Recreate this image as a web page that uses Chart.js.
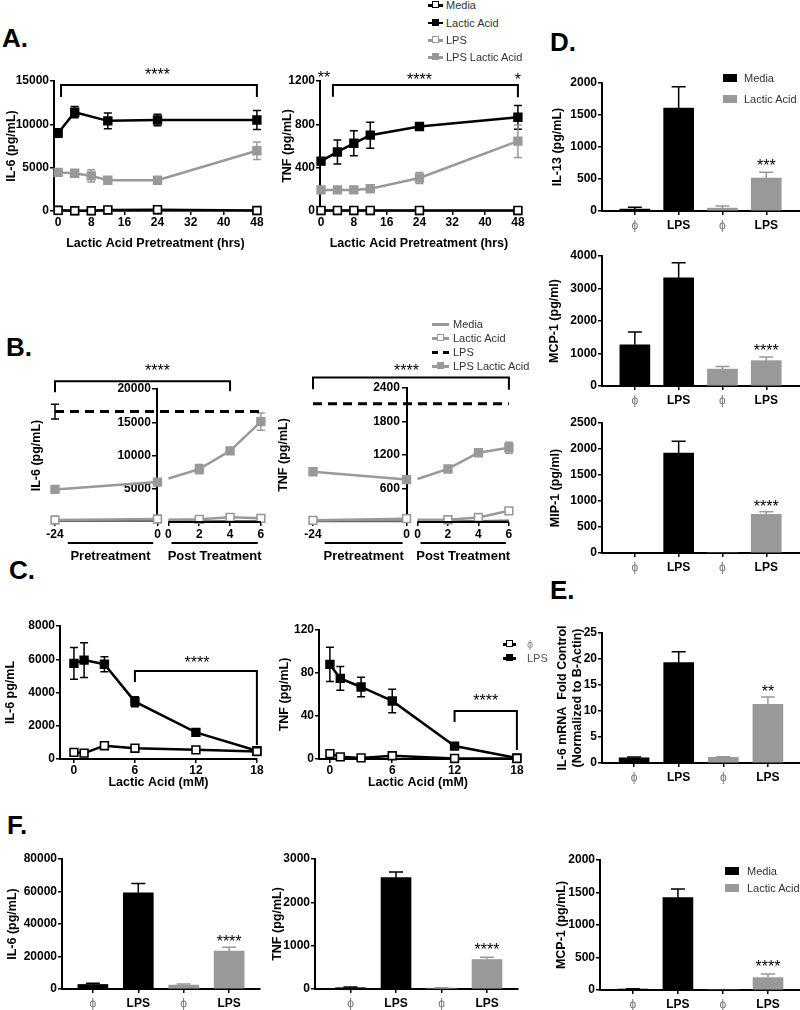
<!DOCTYPE html>
<html>
<head>
<meta charset="utf-8">
<script src="https://cdn.jsdelivr.net/npm/chart.js@4.4.1/dist/chart.umd.min.js"></script>
<style>
body{margin:0;width:800px;height:1010px;position:relative;overflow:hidden;background:#fff;font-family:'Liberation Sans',Arial,sans-serif}
canvas{position:absolute}
.lt{position:absolute;font-weight:bold;font-size:26px;line-height:26px}
.lg{position:absolute;height:14px;width:120px;font-size:11px;line-height:14px}
.lg i,.lg span{position:absolute;display:block}
.lg span{top:0;white-space:nowrap}
</style>
</head>
<body>
<div class="lt" style="left:2px;top:25px">A.</div>
<div class="lt" style="left:6px;top:334px">B.</div>
<div class="lt" style="left:9px;top:557px">C.</div>
<div class="lt" style="left:550px;top:29px">D.</div>
<div class="lt" style="left:550px;top:577px">E.</div>
<div class="lt" style="left:7px;top:812px">F.</div>
<script>
// ---- A: lactic acid pretreatment time course ----
const aHours = [0, 4, 8, 12, 24, 48]
const aTicks = [0, 8, 16, 24, 32, 40, 48]
const aLabels = ['Media', 'Lactic Acid', 'LPS', 'LPS Lactic Acid']
const aIl6Media = [80, 30, 30, 120, 150, 60]
const aIl6Lactic = [9000, 11400, null, 10400, 10500, 10500]
const aIl6LacticErr = [500, 650, 0, 900, 650, 1100]
const aIl6Lps = [60, 20, 20, 80, 100, 40]
const aIl6LpsLactic = [4450, 4350, 4050, 3550, 3550, 6950]
const aIl6LpsLacticErr = [350, 150, 700, 150, 150, 1000]
const aTnfMedia = [5, 5, 5, 5, 5, 5]
const aTnfLactic = [460, 545, 625, 700, 780, 865]
const aTnfLacticErr = [30, 110, 115, 120, 15, 110]
const aTnfLps = [3, 3, 3, 3, 3, 3]
const aTnfLpsLactic = [195, 195, 195, 205, 305, 645]
const aTnfLpsLacticErr = [15, 10, 10, 10, 50, 150]

// ---- B: pretreatment vs post treatment ----
const bPreHours = [-24, 0]
const bPostHours = [0, 2, 4, 6]
const bTickLabels = ['-24', '0', '0', '2', '4', '6']
const bIl6Ticks = [5000, 10000, 15000, 20000]
const bIl6MediaPre = [150, 150]
const bIl6MediaPost = [100, 100, 150, 150]
const bIl6LacticPre = [300, 450]
const bIl6LacticPost = [350, 400, 700, 550]
const bIl6Lps = 16600
const bIl6LpsErr = 1100
const bIl6LpsLacticPre = [4900, 6000]
const bIl6LpsLacticPost = [6550, 7950, 10700, 15100]
const bIl6LpsLacticPostErr = [0, 700, 400, 1300]
const bTnfTicks = [600, 1200, 1800, 2400]
const bTnfMediaPre = [15, 15]
const bTnfMediaPost = [15, 15, 20, 25]
const bTnfLacticPre = [30, 60]
const bTnfLacticPost = [40, 40, 80, 200]
const bTnfLps = 2120
const bTnfLpsLacticPre = [900, 760]
const bTnfLpsLacticPost = [770, 950, 1240, 1330]
const bTnfLpsLacticPostErr = [0, 30, 40, 100]

// ---- C: lactic acid dose ----
const cLactate = [0, 1, 3, 6, 12, 18]
const cTicks = [0, 6, 12, 18]
const cIl6Phi = [400, 350, 800, 650, 550, 450]
const cIl6Lps = [5750, 5950, 5700, 3450, 1600, 500]
const cIl6LpsErr = [950, 1050, 450, 300, 100, 50]
const cTnfPhi = [5, 2, 1, 3, 0.5, 0.5]
const cTnfLps = [88, 75, 67, 54, 12, 1]
const cTnfLpsErr = [16, 11, 9, 11, 2, 1]

// ---- D / E / F: bars (phi, LPS) x (Media, Lactic Acid) ----
const barCats = ['ϕ', 'LPS', 'ϕ', 'LPS']
const barPos = [1, 2, 3, 4]
const barGroups = ['Media', 'Lactic Acid']
const dIl13Media = [30, 1610], dIl13MediaErr = [30, 330]
const dIl13Lactic = [45, 515], dIl13LacticErr = [35, 90]
const dMcpMedia = [1270, 3330], dMcpMediaErr = [390, 460]
const dMcpLactic = [520, 780], dMcpLacticErr = [80, 110]
const dMipMedia = [0, 1920], dMipMediaErr = [0, 230]
const dMipLactic = [0, 745], dMipLacticErr = [0, 50]
const eIl6Media = [1.0, 19.3], eIl6MediaErr = [0.15, 2.1]
const eIl6Lactic = [1.1, 11.3], eIl6LacticErr = [0.1, 1.4]
const fIl6Media = [2800, 59200], fIl6MediaErr = [700, 5800]
const fIl6Lactic = [2400, 23300], fIl6LacticErr = [700, 2400]
const fTnfMedia = [30, 2570], fTnfMediaErr = [15, 130]
const fTnfLactic = [20, 680], fTnfLacticErr = [10, 50]
const fMcpMedia = [15, 1420], fMcpMediaErr = [5, 135]
const fMcpLactic = [0, 190], fMcpLacticErr = [0, 55]

const FONT = "'Liberation Sans', Arial, sans-serif"
const GRAY = '#999999'
Chart.defaults.font.family = FONT
Chart.defaults.color = '#000'

const tickFont = {family: FONT, size: 12, weight: 'bold'}
const axisBorder = {color: '#000', width: 2}
const axisGrid = {drawOnChartArea: false, color: '#000', lineWidth: 1.5, tickLength: 4}
const titleOpts = text => ({display: true, text, font: {family: FONT, size: 12.5, weight: 'bold'}, color: '#000', padding: 0})

// error bars under the marks, brackets / stars / axis break decorations on top
const extrasPlugin = {
  id: 'extras',
  beforeDatasetsDraw(chart) {
    const ctx = chart.ctx, ys = chart.scales.y
    chart.data.datasets.forEach((ds, i) => {
      if (!ds.errs) return
      const els = chart.getDatasetMeta(i).data
      ctx.save()
      ctx.strokeStyle = ds.errColor
      ctx.lineWidth = 1.5
      ds.errs.forEach((e, j) => {
        const v = ds.data[j].y
        if (!e || v == null || !els[j]) return
        const x = els[j].x, c = ds.cap
        const hi = ys.getPixelForValue(v + e)
        const lo = ys.getPixelForValue(ds.upOnly ? v : v - e)
        ctx.beginPath()
        ctx.moveTo(x, lo); ctx.lineTo(x, hi)
        ctx.moveTo(x - c, hi); ctx.lineTo(x + c, hi)
        if (!ds.upOnly) { ctx.moveTo(x - c, lo); ctx.lineTo(x + c, lo) }
        ctx.stroke()
      })
      ctx.restore()
    })
  },
  afterDraw(chart) {
    const o = chart.config.options.plugins.extras || {}
    const ctx = chart.ctx, xs = chart.scales.x, ys = chart.scales.y
    const bottom = chart.chartArea.bottom
    ctx.save()
    ctx.strokeStyle = '#000'; ctx.fillStyle = '#000'; ctx.lineWidth = 2
    ;(o.brackets || []).forEach(b => {
      const x1 = xs.getPixelForValue(b.x1), x2 = xs.getPixelForValue(b.x2), y = ys.getPixelForValue(b.y)
      ctx.beginPath()
      ctx.moveTo(x1, ys.getPixelForValue(b.y1)); ctx.lineTo(x1, y)
      ctx.lineTo(x2, y); ctx.lineTo(x2, ys.getPixelForValue(b.y2))
      ctx.stroke()
    })
    ctx.font = '16px ' + FONT
    ctx.textAlign = 'center'; ctx.textBaseline = 'alphabetic'
    ;(o.stars || []).forEach(s => ctx.fillText(s.t, xs.getPixelForValue(s.x), ys.getPixelForValue(s.y) + 9))
    if (o.baseline) {
      ctx.beginPath()
      ctx.moveTo(xs.getPixelForValue(o.baseline[0]), bottom); ctx.lineTo(xs.getPixelForValue(o.baseline[1]), bottom)
      ctx.stroke()
    }
    ctx.font = 'bold 13px ' + FONT
    ctx.textBaseline = 'middle'
    ;(o.groups || []).forEach(g => {
      const x1 = xs.getPixelForValue(g.x1), x2 = xs.getPixelForValue(g.x2)
      ctx.beginPath(); ctx.moveTo(x1, bottom + 21); ctx.lineTo(x2, bottom + 21); ctx.stroke()
      ctx.fillText(g.text, (x1 + x2) / 2, bottom + 34)
    })
    ctx.restore()
  }
}

// box: l,t,r,b = plot area on the page, yt = centre of y title, xh = room under plot
function makeChart(box, type, datasets, scales, extras) {
  const pt = box.pt || 40, pr = box.pr || 6
  const left = Math.round(box.yt - 7.5)
  const top = box.t - pt
  const cv = document.createElement('canvas')
  cv.width = box.r + pr - left
  cv.height = box.b + box.xh - top
  cv.style.left = left + 'px'
  cv.style.top = top + 'px'
  document.body.appendChild(cv)
  scales[box.yid || 'y'].afterFit = s => { s.width = box.l - left }
  scales.x.afterFit = s => { s.height = box.xh }
  return new Chart(cv, {
    type, data: {datasets}, plugins: [extrasPlugin],
    options: {
      responsive: false, animation: false, devicePixelRatio: 1,
      layout: {padding: {top: pt, right: pr, left: 0, bottom: 0}},
      plugins: {legend: {display: false}, tooltip: {enabled: false}, extras: extras || {}},
      scales
    }
  })
}

const pts = (xs, ys) => xs.map((x, i) => ({x, y: ys[i]}))

function series(label, xs, ys, color, open, extra) {
  return Object.assign({
    label, data: pts(xs, ys), clip: false, tension: 0, xAxisID: 'x', yAxisID: 'y',
    borderColor: color, backgroundColor: color, borderWidth: 2.5,
    pointStyle: 'rect', pointRadius: 5.5, pointBorderWidth: 1.6,
    pointBorderColor: color, pointBackgroundColor: open ? '#fff' : color,
    errColor: color, cap: 4
  }, extra || {})
}

function bars(label, xs, ys, errs, color) {
  return {label, data: pts(xs, ys), errs, upOnly: true, errColor: color, cap: 7,
    backgroundColor: color, borderWidth: 0, barThickness: 30, grouped: false}
}

function yLin(max, step, title) {
  return {type: 'linear', min: 0, max,
    ticks: {stepSize: step, font: tickFont, color: '#000', padding: 1, callback: v => String(v)},
    border: axisBorder, grid: axisGrid, title: titleOpts(title)}
}

function xLin(min, max, ticks, title) {
  return {type: 'linear', min, max,
    afterBuildTicks: s => { s.ticks = ticks.map(v => ({value: v})) },
    ticks: {font: tickFont, color: '#000', padding: 0, autoSkip: false, maxRotation: 0, callback: v => String(v)},
    border: axisBorder, grid: axisGrid, title: title ? titleOpts(title) : {display: false}}
}

function xBar(min, max) {
  return {type: 'linear', min, max, offset: false,
    afterBuildTicks: s => { s.ticks = barPos.map(v => ({value: v})) },
    ticks: {autoSkip: false, maxRotation: 0, padding: 3,
      callback: (v, i) => barCats[i],
      color: c => barCats[c.index] === 'ϕ' ? '#777' : '#000',
      font: c => barCats[c.index] === 'ϕ' ? {family: FONT, size: 12} : tickFont},
    border: axisBorder, grid: Object.assign({}, axisGrid, {offset: false})}
}

// ---- A ----
function aSets(media, lactic, lacticErr, lps, lpsLactic, lpsLacticErr) {
  return [
    series(aLabels[0], aHours, media, '#000', true),
    series(aLabels[1], aHours, lactic, '#000', false, {errs: lacticErr, spanGaps: true}),
    series(aLabels[2], aHours, lps, GRAY, true),
    series(aLabels[3], aHours, lpsLactic, GRAY, false, {errs: lpsLacticErr})
  ]
}
makeChart({l: 54, t: 81, r: 258, b: 211, yt: 11, xh: 40}, 'line',
  aSets(aIl6Media, aIl6Lactic, aIl6LacticErr, aIl6Lps, aIl6LpsLactic, aIl6LpsLacticErr),
  {x: xLin(-1, 48, aTicks, 'Lactic Acid Pretreatment (hrs)'), y: yLin(15000, 5000, 'IL-6 (pg/mL)')},
  {brackets: [{x1: 0.7, x2: 48, y: 14550, y1: 13150, y2: 13150}],
   stars: [{x: 24, y: 16100, t: '****'}]})
makeChart({l: 320, t: 81, r: 519, b: 211, yt: 287, xh: 40}, 'line',
  aSets(aTnfMedia, aTnfLactic, aTnfLacticErr, aTnfLps, aTnfLpsLactic, aTnfLpsLacticErr),
  {x: xLin(-0.25, 48, aTicks, 'Lactic Acid Pretreatment (hrs)'), y: yLin(1200, 400, 'TNF (pg/mL)')},
  {brackets: [{x1: 2.9, x2: 48, y: 1163, y1: 1055, y2: 1050}],
   stars: [{x: 0.7, y: 1265, t: '**'}, {x: 24, y: 1250, t: '****'}, {x: 48, y: 1250, t: '*'}]})

// ---- B: x axis with a break between pre and post treatment ----
const bPos = (t, post, k) => post ? k.off + t * k.str : t
function bChart(box, k, title, ymax, yticks, media, lactic, lps, lpsErr, lpsLactic, lpsLacticErr, extras) {
  const pre = bPreHours.map(t => bPos(t, false, k))
  const post = bPostHours.map(t => bPos(t, true, k))
  const end = bPos(6, true, k)
  const tickVals = pre.concat(post)
  const dark = '#666', postRadius = [0, 5.5, 5.5, 5.5]
  const sets = [
    series('LPS Lactic Acid', pre, lpsLactic[0], GRAY, false),
    series('LPS Lactic Acid', post, lpsLactic[1], GRAY, false, {errs: lpsLacticErr, pointRadius: postRadius}),
    series('LPS', [-24, end], [lps, lps], '#000', false, {errs: [lpsErr, 0], borderDash: [9, 6], borderWidth: 3, pointRadius: 0}),
    series('Lactic Acid', pre, lactic[0], GRAY, true),
    series('Lactic Acid', post, lactic[1], GRAY, true, {pointRadius: postRadius}),
    series('Media', pre, media[0], dark, false, {pointRadius: 0, borderWidth: 2}),
    series('Media', post, media[1], dark, false, {pointRadius: 0, borderWidth: 2})
  ]
  const scales = {
    x: {type: 'linear', min: -24, max: end,
      afterBuildTicks: s => { s.ticks = tickVals.map(v => ({value: v})) },
      ticks: {font: tickFont, color: '#000', padding: 1, autoSkip: false, maxRotation: 0, callback: (v, i) => bTickLabels[i]},
      border: {display: false}, grid: axisGrid},
    y: {type: 'linear', position: {x: 0}, min: 0, max: ymax,
      afterBuildTicks: s => { s.ticks = yticks.map(v => ({value: v})) },
      ticks: {font: tickFont, color: '#000', callback: v => v + '  '},
      border: axisBorder, grid: axisGrid},
    yt: {type: 'linear', position: 'left', ticks: {display: false}, grid: {display: false},
      border: {display: false}, title: titleOpts(title)}
  }
  extras.baseline = [post[0], end]
  extras.groups = [{x1: -21, x2: -1, text: 'Pretreatment'},
    {x1: bPos(0.2, true, k), x2: bPos(5.8, true, k), text: 'Post Treatment'}]
  return makeChart(box, 'line', sets, scales, extras)
}
const k1 = {off: 2.56, str: 3.61}, k2 = {off: 2.81, str: 3.91}
bChart({l: 55, t: 389, r: 262, b: 522, yt: 36, xh: 45, pt: 35, yid: 'yt'}, k1, 'IL-6 (pg/mL)', 20000, bIl6Ticks,
  [bIl6MediaPre, bIl6MediaPost], [bIl6LacticPre, bIl6LacticPost], bIl6Lps, bIl6LpsErr,
  [bIl6LpsLacticPre, bIl6LpsLacticPost], bIl6LpsLacticPostErr,
  {brackets: [{x1: -24, x2: bPos(4, true, k1), y: 21150, y1: 19500, y2: 19650}],
   stars: [{x: 0, y: 23250, t: '****'}]})
bChart({l: 313, t: 388, r: 510, b: 522, yt: 283, xh: 45, pt: 35, yid: 'yt'}, k2, 'TNF (pg/mL)', 2400, bTnfTicks,
  [bTnfMediaPre, bTnfMediaPost], [bTnfLacticPre, bTnfLacticPost], bTnfLps, 0,
  [bTnfLpsLacticPre, bTnfLpsLacticPost], bTnfLpsLacticPostErr,
  {brackets: [{x1: -24, x2: bPos(6, true, k2), y: 2590, y1: 2376, y2: 2370}],
   stars: [{x: 0, y: 2770, t: '****'}]})

// ---- C ----
function cSets(phi, lps, lpsErr) {
  return [
    series('ϕ', cLactate, phi, '#000', true),
    series('LPS', cLactate, lps, '#000', false, {errs: lpsErr})
  ]
}
makeChart({l: 60, t: 626, r: 258, b: 759, yt: 10, xh: 31}, 'line', cSets(cIl6Phi, cIl6Lps, cIl6LpsErr),
  {x: xLin(-1.37, 18, cTicks, 'Lactic Acid (mM)'), y: yLin(8000, 2000, 'IL-6 pg/mL')},
  {brackets: [{x1: 6, x2: 18, y: 5290, y1: 4630, y2: 840}], stars: [{x: 12.1, y: 6015, t: '****'}]})
makeChart({l: 319, t: 630, r: 518, b: 759, yt: 284, xh: 31}, 'line', cSets(cTnfPhi, cTnfLps, cTnfLpsErr),
  {x: xLin(-1.05, 18, cTicks, 'Lactic Acid (mM)'), y: yLin(120, 40, 'TNF (pg/mL)')},
  {brackets: [{x1: 12, x2: 18, y: 44.6, y1: 34.4, y2: 8.4}], stars: [{x: 15, y: 57.7, t: '****'}]})

// ---- bar panels ----
function barChart(box, xr, title, ymax, step, media, mediaErr, lactic, lacticErr, stars) {
  return makeChart(box, 'bar', [
    bars(barGroups[0], barPos.slice(0, 2), media, mediaErr, '#000'),
    bars(barGroups[1], barPos.slice(2), lactic, lacticErr, GRAY)
  ], {x: xBar(xr[0], xr[1]), y: yLin(ymax, step, title)}, {stars})
}
barChart({l: 602, t: 83, r: 800, b: 211, yt: 557, xh: 25}, [0.25, 4.77], 'IL-13 (pg/mL)', 2000, 500,
  dIl13Media, dIl13MediaErr, dIl13Lactic, dIl13LacticErr, [{x: 4, y: 765, t: '***'}])
barChart({l: 602, t: 256, r: 800, b: 386, yt: 554, xh: 25}, [0.25, 4.77], 'MCP-1 (pg/ml)', 4000, 1000,
  dMcpMedia, dMcpMediaErr, dMcpLactic, dMcpLacticErr, [{x: 4, y: 1210, t: '****'}])
barChart({l: 602, t: 423, r: 800, b: 553, yt: 555, xh: 25}, [0.25, 4.77], 'MIP-1 (pg/ml)', 2500, 500,
  dMipMedia, dMipMediaErr, dMipLactic, dMipLacticErr, [{x: 4, y: 960, t: '****'}])
barChart({l: 602, t: 633, r: 800, b: 763, yt: 562, xh: 25}, [0.28, 4.72],
  ['IL-6 mRNA  Fold Control', '(Normalized to B-Actin)'], 25, 5,
  eIl6Media, eIl6MediaErr, eIl6Lactic, eIl6LacticErr, [{x: 4, y: 14.4, t: '**'}])
barChart({l: 62, t: 859, r: 260, b: 989, yt: 12, xh: 25}, [0.32, 4.68], 'IL-6 (pg/mL)', 80000, 20000,
  fIl6Media, fIl6MediaErr, fIl6Lactic, fIl6LacticErr, [{x: 4, y: 31400, t: '****'}])
barChart({l: 315, t: 859, r: 518, b: 989, yt: 277, xh: 25}, [0.22, 4.68], 'TNF (pg/mL)', 3000, 1000,
  fTnfMedia, fTnfMediaErr, fTnfLactic, fTnfLacticErr, [{x: 4, y: 990, t: '****'}])
barChart({l: 600, t: 860, r: 800, b: 990, yt: 561, xh: 25}, [0.27, 4.71], 'MCP-1 (pg/mL)', 2000, 500,
  fMcpMedia, fMcpMediaErr, fMcpLactic, fMcpLacticErr, [{x: 4, y: 415, t: '****'}])

// ---- legends ----
function addLegend(x, tx, w, items) {
  items.forEach(it => {
    const row = document.createElement('div')
    row.className = 'lg'
    row.style.left = x + 'px'
    row.style.top = (it.y - 7) + 'px'
    let h = ''
    if (it.box) h += `<i style="left:0;top:3px;width:${w}px;height:8px;background:${it.box}"></i>`
    if (it.line) h += `<i style="left:0;top:${it.dash ? 5.5 : 6}px;width:${w}px;height:${it.dash ? 3 : 2.5}px;background:${it.dash ? `repeating-linear-gradient(90deg,${it.line} 0 6px,transparent 6px 11px)` : it.line}"></i>`
    if (it.mark) h += `<i style="left:${w / 2 - 4}px;top:3px;width:5px;height:5px;border:1.5px solid ${it.mark};background:${it.fill}"></i>`
    h += `<span style="left:${tx - x}px;color:${it.color || '#333'}">${it.label}</span>`
    row.innerHTML = h
    document.body.appendChild(row)
  })
}
addLegend(428, 446, 15, [
  {y: 5, label: aLabels[0], line: '#000', mark: '#000', fill: '#fff'},
  {y: 22.5, label: aLabels[1], line: '#000', mark: '#000', fill: '#000'},
  {y: 40, label: aLabels[2], line: GRAY, mark: GRAY, fill: '#fff'},
  {y: 57, label: aLabels[3], line: GRAY, mark: GRAY, fill: GRAY}
])
addLegend(432, 453, 17, [
  {y: 324, label: aLabels[0], line: GRAY},
  {y: 338, label: aLabels[1], line: GRAY, mark: GRAY, fill: '#fff'},
  {y: 352, label: aLabels[2], line: '#000', dash: true},
  {y: 366, label: aLabels[3], line: GRAY, mark: GRAY, fill: GRAY}
])
addLegend(503, 527, 13, [
  {y: 644, label: 'ϕ', line: '#000', mark: '#000', fill: '#fff', color: '#888'},
  {y: 658, label: 'LPS', line: '#000', mark: '#000', fill: '#000', color: '#555'}
])
addLegend(723, 744, 14, [
  {y: 78, label: barGroups[0], box: '#000'},
  {y: 99, label: barGroups[1], box: GRAY}
])
addLegend(725, 747, 14, [
  {y: 871, label: barGroups[0], box: '#000'},
  {y: 888, label: barGroups[1], box: GRAY}
])
</script>
</body>
</html>
